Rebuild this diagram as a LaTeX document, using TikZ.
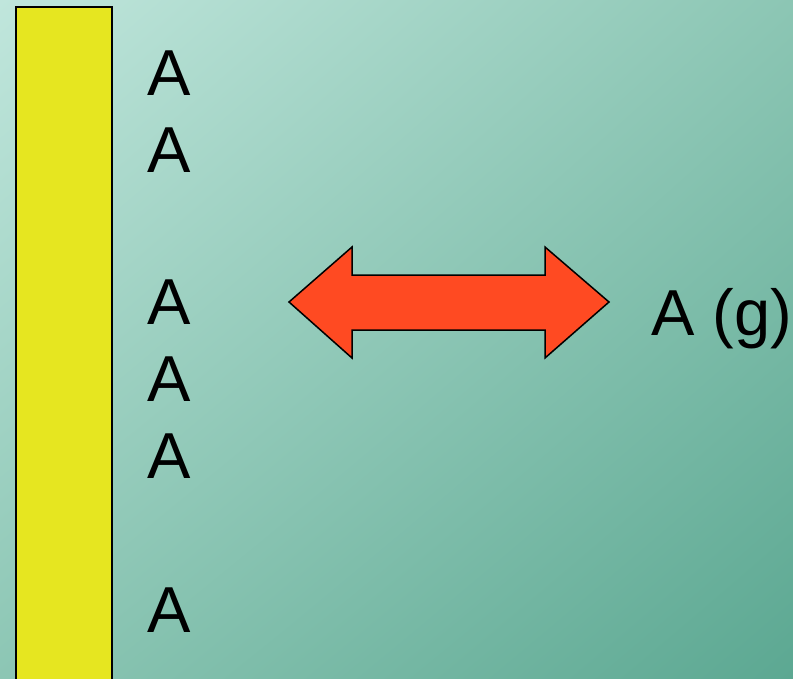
\documentclass[tikz,border=0pt]{standalone}
\usepackage{fontspec}
\setmainfont{Liberation Sans}
\usetikzlibrary{shadings}
\definecolor{bgTL}{RGB}{192,230,220}
\definecolor{bgTR}{RGB}{140,198,180}
\definecolor{bgBL}{RGB}{140,198,180}
\definecolor{bgBR}{RGB}{92,168,146}
\definecolor{barY}{RGB}{230,230,32}
\definecolor{arrR}{RGB}{255,74,34}
\tikzset{
  lbl/.style={anchor=base west, inner sep=0pt, font=\fontsize{65}{65}\selectfont},
}
\begin{document}
\begin{tikzpicture}[x=1pt,y=-1pt]
\useasboundingbox (0,0) rectangle (793,678);
\shade[upper left=bgTL, upper right=bgTR, lower left=bgBL, lower right=bgBR] (0,0) rectangle (793,678);
\draw[fill=barY, line width=1.5pt] (16,7) rectangle (112,690);
\node[lbl] (a1) at (147,95) {A};
\node[lbl] (a2) at (147,172) {A};
\node[lbl] (a3) at (147,324) {A};
\node[lbl] (a4) at (147,401) {A};
\node[lbl] (a5) at (147,478) {A};
\node[lbl] (a6) at (147,632) {A};
\node[lbl] (ag) at (651,335) {A (g)};
\draw[fill=arrR, line width=1.5pt, line join=miter]
  (289,302) -- (352,247) -- (352,275) -- (545,275) -- (545,247) -- (609,302)
  -- (545,358) -- (545,330) -- (352,330) -- (352,358) -- cycle;
\end{tikzpicture}
\end{document}
